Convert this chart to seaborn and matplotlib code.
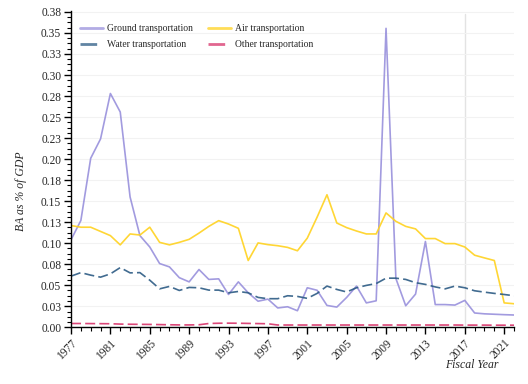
import numpy as np
import pandas as pd
import matplotlib
matplotlib.use("Agg")
import matplotlib.pyplot as plt
import seaborn as sns
from matplotlib.ticker import MultipleLocator, FixedLocator

years = list(range(1977, 2023))

ground = [0.104, 0.127, 0.201, 0.224, 0.278, 0.256, 0.155, 0.109, 0.0955, 0.0758,
          0.0718, 0.059, 0.054, 0.0687, 0.0569, 0.0576, 0.039, 0.054, 0.041, 0.031,
          0.0335, 0.023, 0.0244, 0.0197, 0.047, 0.044, 0.026, 0.024, 0.0355, 0.049,
          0.029, 0.0315, 0.3555, 0.058, 0.0256, 0.0395, 0.102, 0.027, 0.027, 0.0264,
          0.032, 0.017, 0.016, 0.0155, 0.015, 0.0146]

air = [0.121, 0.119, 0.119, 0.114, 0.109, 0.098, 0.111, 0.1097, 0.119, 0.101,
       0.098, 0.101, 0.1046, 0.112, 0.120, 0.1268, 0.1228, 0.1177, 0.0794, 0.1003,
       0.0983, 0.097, 0.095, 0.091, 0.106, 0.131, 0.1576, 0.124, 0.1185, 0.1145,
       0.111, 0.111, 0.136, 0.126, 0.12, 0.117, 0.1055, 0.1055, 0.0995, 0.0995,
       0.0955, 0.0857, 0.0825, 0.0794, 0.029, 0.028]

water = [0.0608, 0.065, 0.062, 0.0596, 0.0635, 0.071, 0.0647, 0.065, 0.056, 0.0457,
         0.0486, 0.0438, 0.0474, 0.047, 0.0442, 0.0442, 0.041, 0.0426, 0.041, 0.0355,
         0.034, 0.034, 0.0375, 0.0367, 0.0344, 0.0403, 0.049, 0.045, 0.042, 0.047,
         0.0498, 0.052, 0.0584, 0.0584, 0.0569, 0.053, 0.051, 0.048, 0.0457, 0.049,
         0.047, 0.0434, 0.0418, 0.0403, 0.039, 0.0375]

other = [0.0045, 0.0045, 0.0044, 0.0043, 0.0042, 0.0038, 0.0036, 0.0035, 0.0034, 0.0032,
         0.003, 0.0028, 0.0028, 0.003, 0.0045, 0.0048, 0.0049, 0.0048, 0.0046, 0.0044,
         0.0042, 0.0027, 0.0027, 0.0027, 0.0027, 0.0027, 0.0027, 0.0027, 0.0027, 0.0027,
         0.0027, 0.0027, 0.0027, 0.0027, 0.0027, 0.0027, 0.0027, 0.0027, 0.0027, 0.0027,
         0.0026, 0.0026, 0.0026, 0.0025, 0.0025, 0.0025]

series_names = ["Ground transportation", "Air transportation",
                "Water transportation", "Other transportation"]
colors = ["#9890dc", "#ffd21f", "#2c5b84", "#d8336a"]

y_ticks = [i * 0.025 for i in range(16)]
y_labels = ["0.00", "0.03", "0.05", "0.08", "0.10", "0.13", "0.15", "0.18",
            "0.20", "0.23", "0.25", "0.28", "0.30", "0.33", "0.35", "0.38"]
x_ticks = list(range(1977, 2023, 4))

df = pd.DataFrame({"year": years * 4,
                   "value": ground + air + water + other,
                   "series": sum([[n] * len(years) for n in series_names], [])})

sns.set_style("white")
plt.rcParams["font.family"] = ["Liberation Serif", "DejaVu Serif"]

fig = plt.figure(figsize=(5.28, 3.84), dpi=100)
ax = fig.add_axes([0.1345, 0.1477, 0.839, 0.8245])

ax.axvline(2017, ymax=0.99, color="#e3e3e3", lw=1, zorder=0)

sns.lineplot(data=df, x="year", y="value", hue="series", style="series",
             hue_order=series_names, style_order=series_names,
             palette=colors, dashes=["", "", (6, 2.5), (6, 2.5)],
             lw=1.2, ax=ax, legend=True)

for ln in ax.lines[1:]:
    ln.set_alpha(0.9)

ax.set_xlim(1977, 2022)
ax.set_ylim(0, 0.3765)
ax.yaxis.set_major_locator(FixedLocator(y_ticks))
ax.set_yticklabels(y_labels)
ax.yaxis.set_minor_locator(MultipleLocator(0.00625))
ax.xaxis.set_major_locator(FixedLocator(x_ticks))
ax.xaxis.set_minor_locator(MultipleLocator(1))
ax.set_xticklabels([str(y) for y in x_ticks], rotation=45, ha="right",
                   rotation_mode="anchor")

ax.tick_params(axis="both", which="major", direction="out", length=5, width=1,
               color="black", labelsize=8.3, pad=2, left=True, bottom=True)
ax.tick_params(axis="both", which="minor", direction="out", length=3, width=0.8,
               color="black", left=True, bottom=True)

ax.grid(axis="y", which="major", color="#f2f2f2", lw=0.8)
ax.set_axisbelow(True)

for s in ["top", "right"]:
    ax.spines[s].set_visible(False)
for s in ["left", "bottom"]:
    ax.spines[s].set_color("black")
    ax.spines[s].set_linewidth(1)

ax.set_ylabel("BA as % of GDP", fontsize=8.5, style="italic")
ax.yaxis.set_label_coords(-0.1, 0.43)
ax.set_xlabel("Fiscal Year", fontsize=8.5, style="italic")
ax.xaxis.set_label_coords(0.905, -0.1)

# legend reads row-wise: Ground, Air / Water, Other
handles, labels = ax.get_legend_handles_labels()
order = [0, 2, 1, 3]
leg = ax.legend([handles[i] for i in order], [labels[i] for i in order],
                loc="upper left", ncol=2, frameon=False, fontsize=6.9,
                bbox_to_anchor=(0.0, 0.985), handlelength=2.4, columnspacing=1.6,
                handletextpad=0.45, labelspacing=0.75)
for h in leg.get_lines():
    h.set_linewidth(2)
    h.set_alpha(0.75)

fig.savefig("out.png", dpi=100)
